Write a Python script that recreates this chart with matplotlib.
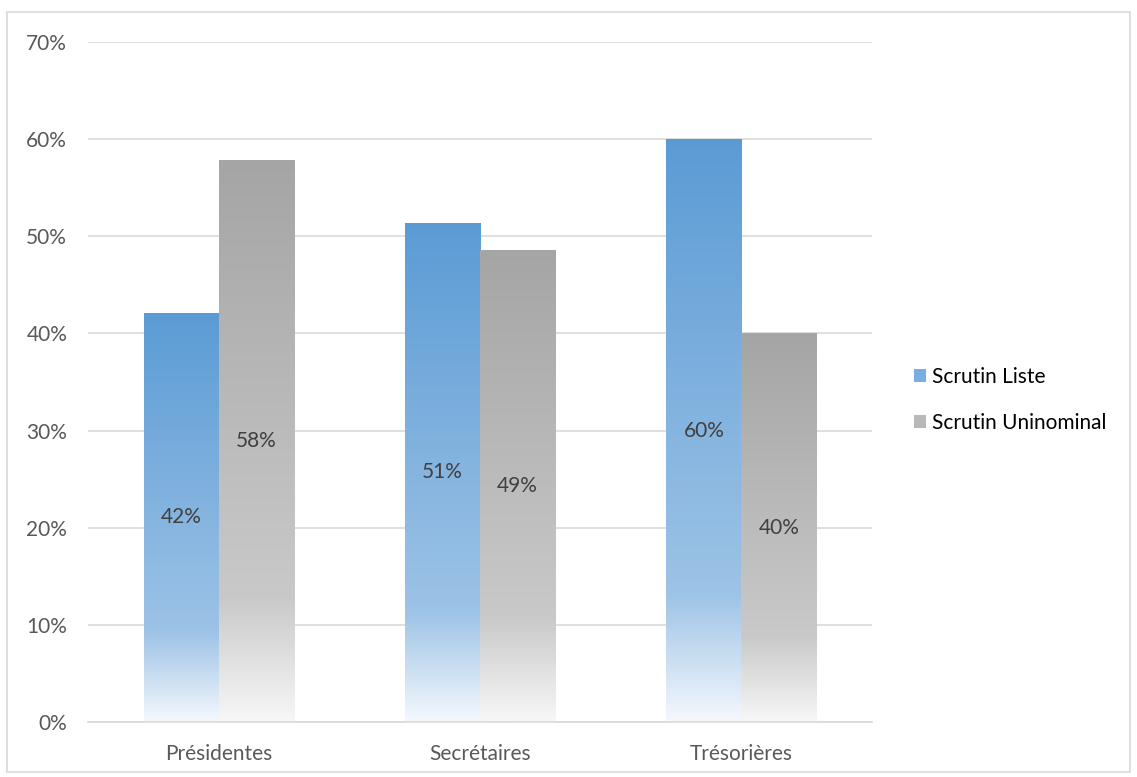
import numpy as np
import matplotlib.pyplot as plt
from matplotlib.colors import LinearSegmentedColormap
from matplotlib.patches import Patch, Rectangle

categories = ["Présidentes", "Secrétaires", "Trésorières"]
liste = [42.1, 51.4, 60.0]
uninominal = [57.9, 48.6, 40.0]
labels_liste = ["42%", "51%", "60%"]
labels_uni = ["58%", "49%", "40%"]
series_names = ["Scrutin Liste", "Scrutin Uninominal"]

plt.rcParams["font.family"] = ["Lato", "DejaVu Sans"]


def gradient_cmap(top, mid, bottom):
    # 0 = bottom of bar, 1 = top of bar
    return LinearSegmentedColormap.from_list(
        "g", [(0.0, bottom), (0.22, mid), (1.0, top)]
    )


blue_cmap = gradient_cmap("#5B9BD5", "#9DC3E6", "#F4F8FD")
gray_cmap = gradient_cmap("#A5A5A5", "#C9C9C9", "#F7F7F7")


def gradient_bars(ax, bars, cmap):
    grad = np.linspace(0, 1, 256).reshape(-1, 1)
    for b in bars:
        x0, y0 = b.get_x(), b.get_y()
        w, h = b.get_width(), b.get_height()
        im = ax.imshow(grad, cmap=cmap, origin="lower", aspect="auto",
                       extent=[x0, x0 + w, y0, y0 + h], zorder=2)
        im.set_clip_path(b)
        b.set_facecolor("none")


fig = plt.figure(figsize=(11.37, 7.77), dpi=100)
ax = fig.add_axes([0.0774, 0.0708, 0.6896, 0.8752])

x = np.arange(len(categories))
w = 0.287
b1 = ax.bar(x - w / 2, liste, w, zorder=2, linewidth=0)
b2 = ax.bar(x + w / 2, uninominal, w, zorder=2, linewidth=0)
gradient_bars(ax, b1, blue_cmap)
gradient_bars(ax, b2, gray_cmap)

for bars, labs in ((b1, labels_liste), (b2, labels_uni)):
    for b, lab in zip(bars, labs):
        ax.text(b.get_x() + b.get_width() / 2, b.get_height() / 2, lab,
                ha="center", va="center", fontsize=15, color="#404040",
                zorder=3)

ax.set_xlim(-0.5, 2.5)
ax.set_ylim(0, 70)
ax.set_yticks(np.arange(0, 71, 10))
ax.set_yticklabels([f"{v}%" for v in range(0, 71, 10)])
ax.set_xticks(x)
ax.set_xticklabels(categories)
ax.tick_params(length=0, labelsize=15, labelcolor="#595959")
ax.tick_params(axis="y", pad=15)
ax.tick_params(axis="x", pad=16)
ax.grid(axis="y", color="#D9D9D9", linewidth=1.2, zorder=0)
ax.set_axisbelow(True)
for s in ["top", "right", "left"]:
    ax.spines[s].set_visible(False)
ax.spines["bottom"].set_color("#D9D9D9")
ax.spines["bottom"].set_linewidth(1.2)

handles = [Patch(facecolor="#7AAEE0", edgecolor="none"),
           Patch(facecolor="#B8B8B8", edgecolor="none")]
fig.legend(handles, series_names, loc="center left",
           bbox_to_anchor=(0.787, 0.485), frameon=False, fontsize=15,
           handlelength=0.6, handleheight=0.6, handletextpad=0.3,
           labelspacing=1.25, labelcolor="#000000")

fig.patches.append(Rectangle((0.006, 0.006), 0.988, 0.979,
                             transform=fig.transFigure, fill=False,
                             edgecolor="#D9D9D9", linewidth=1.2))

fig.savefig("out.png", dpi=100)
